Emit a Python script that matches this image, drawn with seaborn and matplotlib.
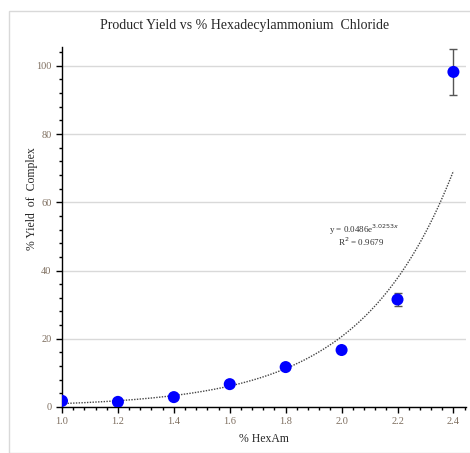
import numpy as np
import pandas as pd
import seaborn as sns
import matplotlib.pyplot as plt
from matplotlib.patches import Rectangle
from matplotlib.ticker import MultipleLocator

# data
hexam = [1.0, 1.2, 1.4, 1.6, 1.8, 2.0, 2.2, 2.4]
yield_pct = [1.8, 1.5, 2.9, 6.7, 11.7, 16.7, 31.5, 98.2]
yield_err = [0, 0, 0, 0, 0, 0, 2.0, 6.7]

# exponential trendline shown on the chart: y = a * e^(b x)
fit_a = 0.0486
fit_b = 3.0253
fit_r2 = 0.9679

df = pd.DataFrame({"HexAm": hexam, "Yield": yield_pct, "Err": yield_err})

sns.set_theme(style="white")
plt.rcParams["font.family"] = ["Liberation Serif", "DejaVu Serif"]

fig = plt.figure(figsize=(4.70, 4.53), dpi=100)
fig.patches.append(Rectangle((9 / 470, 0.0), 1.0, 1 - 11 / 453, transform=fig.transFigure,
                             fill=False, edgecolor="#d9d9d9", linewidth=1.0))
ax = fig.add_axes([62 / 470, 1 - 407 / 453, 404 / 470, 360 / 453])

# trendline
xs = np.linspace(min(hexam), max(hexam), 200)
trend = pd.DataFrame({"x": xs, "y": fit_a * np.exp(fit_b * xs)})
sns.lineplot(data=trend, x="x", y="y", ax=ax, color="#444444", linestyle=(0, (1, 1)),
             linewidth=1.0, zorder=2)

# error bars
ax.errorbar(df["HexAm"], df["Yield"], yerr=df["Err"], fmt="none", ecolor="#555555",
            elinewidth=1.0, capsize=3, capthick=1.0, zorder=3)
sns.scatterplot(data=df, x="HexAm", y="Yield", ax=ax, color="#0000ff", s=75,
                edgecolor="none", zorder=4)

ax.set_xlim(1.0, 2.445)
ax.set_ylim(0, 105.5)
ax.xaxis.set_major_locator(MultipleLocator(0.2))
ax.xaxis.set_minor_locator(MultipleLocator(0.04))
ax.yaxis.set_major_locator(MultipleLocator(20))
ax.yaxis.set_minor_locator(MultipleLocator(4))
ax.xaxis.set_major_formatter(plt.FuncFormatter(lambda v, p: f"{v:.1f}"))

ax.grid(axis="y", which="major", color="#d9d9d9", linewidth=1.0)
ax.set_axisbelow(True)
for s in ["top", "right"]:
    ax.spines[s].set_visible(False)
for s in ["left", "bottom"]:
    ax.spines[s].set_color("black")
    ax.spines[s].set_linewidth(1.0)

ax.tick_params(axis="both", which="major", direction="out", length=4, width=1,
               color="black", labelsize=7.5, labelcolor="#7f6f60", bottom=True, left=True)
ax.tick_params(axis="both", which="minor", direction="out", length=2.5, width=1,
               color="black", bottom=True, left=True)

ax.set_xlabel("% HexAm", fontsize=8.5, labelpad=5)
ax.set_ylabel("% Yield  of  Complex", fontsize=8.5)
ax.yaxis.set_label_coords(-0.06, 0.58)
fig.text(0.5 + 10 / 470, 1 - 25 / 453, "Product Yield vs % Hexadecylammonium  Chloride",
         ha="center", va="center", fontsize=10)

ax.text(2.08, 52.0, f"y = {fit_a}e$^{{{fit_b}x}}$", fontsize=6.5, color="#333333",
        ha="center", va="center")
ax.text(2.07, 48.5, f"R$^2$ = {fit_r2}", fontsize=6.5, color="#333333",
        ha="center", va="center")

fig.savefig("out.png", dpi=100)
